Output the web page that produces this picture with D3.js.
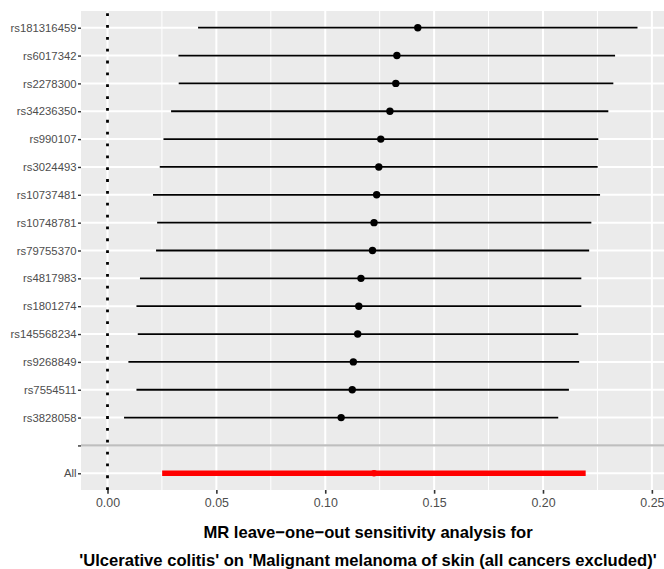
<!DOCTYPE html>
<html>
<head>
<meta charset="utf-8">
<script src="https://cdn.jsdelivr.net/npm/d3@7"></script>
<style>
  html, body { margin: 0; padding: 0; background: #ffffff; }
  svg { display: block; }
  text { font-family: "Liberation Sans", Arial, sans-serif; }
</style>
</head>
<body>
<svg id="chart" width="664" height="569"></svg>
<script>
// ---- data ----
const snps = ["rs181316459","rs6017342","rs2278300","rs34236350","rs990107","rs3024493",
  "rs10737481","rs10748781","rs79755370","rs4817983","rs1801274","rs145568234",
  "rs9268849","rs7554511","rs3828058"];
const estimates = [0.1425,0.1329,0.1324,0.1297,0.1255,0.1246,0.1236,0.1224,0.1217,
  0.1164,0.1154,0.1149,0.1129,0.1124,0.1073];
const lowerCI = [0.0416,0.0326,0.0327,0.0292,0.0257,0.0240,0.0209,0.0228,0.0223,
  0.0149,0.0133,0.0139,0.0096,0.0133,0.0076];
const upperCI = [0.2434,0.2331,0.2323,0.2300,0.2254,0.2251,0.2262,0.2222,0.2212,
  0.2176,0.2176,0.2162,0.2166,0.2119,0.2070];
const overallLabel = "All";
const overallEstimate = 0.1224;
const overallLower = 0.0251;
const overallUpper = 0.2196;
const xTicks = [0, 0.05, 0.10, 0.15, 0.20, 0.25];
const titleLines = ["MR leave\u2212one\u2212out sensitivity analysis for",
  "'Ulcerative colitis' on 'Malignant melanoma of skin (all cancers excluded)'"];

// ---- layout ----
const W = 664, H = 569;
const panel = { left: 81, right: 664, top: 11, bottom: 490 };
const svg = d3.select("#chart");

const levels = snps.concat(["", overallLabel]);
const rows = snps.map((s, i) => ({ snp: s, b: estimates[i], lo: lowerCI[i], up: upperCI[i] }));

const allLo = Math.min(0, d3.min(lowerCI), overallLower);
const allHi = Math.max(d3.max(upperCI), overallUpper);
const padX = 0.05 * (allHi - allLo);
const x = d3.scaleLinear().domain([allLo - padX, allHi + padX]).range([panel.left, panel.right]);
const y = d3.scalePoint().domain(levels).range([panel.top, panel.bottom]).padding(0.6);

// panel background
svg.append("rect")
  .attr("x", panel.left).attr("y", panel.top)
  .attr("width", panel.right - panel.left).attr("height", panel.bottom - panel.top)
  .attr("fill", "#EBEBEB");

// minor x gridlines
const minor = d3.range(0, xTicks.length - 1).map(i => (xTicks[i] + xTicks[i + 1]) / 2);
svg.append("g").selectAll("line").data(minor).join("line")
  .attr("x1", d => x(d)).attr("x2", d => x(d))
  .attr("y1", panel.top).attr("y2", panel.bottom)
  .attr("stroke", "#ffffff").attr("stroke-width", 1);

// major x gridlines
svg.append("g").selectAll("line").data(xTicks).join("line")
  .attr("x1", d => x(d)).attr("x2", d => x(d))
  .attr("y1", panel.top).attr("y2", panel.bottom)
  .attr("stroke", "#ffffff").attr("stroke-width", 2);

// major y gridlines
svg.append("g").selectAll("line").data(levels).join("line")
  .attr("x1", panel.left).attr("x2", panel.right)
  .attr("y1", d => y(d)).attr("y2", d => y(d))
  .attr("stroke", "#ffffff").attr("stroke-width", 2);

// dotted vertical line at 0 (drawn bottom to top)
svg.append("line")
  .attr("x1", x(0)).attr("x2", x(0))
  .attr("y1", panel.bottom).attr("y2", panel.top)
  .attr("stroke", "#000000").attr("stroke-width", 2.8)
  .attr("stroke-dasharray", "2.8 9.05");

// grey separator line
svg.append("line")
  .attr("x1", panel.left).attr("x2", panel.right)
  .attr("y1", y("")).attr("y2", y(""))
  .attr("stroke", "#BEBEBE").attr("stroke-width", 2.2);

// SNP intervals
svg.append("g").selectAll("line").data(rows).join("line")
  .attr("x1", d => x(d.lo)).attr("x2", d => x(d.up))
  .attr("y1", d => y(d.snp)).attr("y2", d => y(d.snp))
  .attr("stroke", "#000000").attr("stroke-width", 1.8);

svg.append("g").selectAll("circle").data(rows).join("circle")
  .attr("cx", d => x(d.b)).attr("cy", d => y(d.snp))
  .attr("r", 3.7).attr("fill", "#000000");

// overall estimate
svg.append("line")
  .attr("x1", x(overallLower)).attr("x2", x(overallUpper))
  .attr("y1", y(overallLabel)).attr("y2", y(overallLabel))
  .attr("stroke", "#FF0000").attr("stroke-width", 5.6);
svg.append("circle")
  .attr("cx", x(overallEstimate)).attr("cy", y(overallLabel))
  .attr("r", 3.2).attr("fill", "#FF0000");

// x axis
const xAxis = d3.axisBottom(x).tickValues(xTicks).tickFormat(d3.format(".2f"))
  .tickSize(3.7).tickPadding(4);
const gx = svg.append("g").attr("transform", `translate(0,${panel.bottom})`).call(xAxis);
gx.select(".domain").remove();
gx.selectAll(".tick line").attr("stroke", "#333333").attr("stroke-width", 1.6);
gx.selectAll(".tick text").attr("fill", "#4D4D4D").attr("font-size", "12.4px")
  .attr("font-family", "Liberation Sans, Arial, sans-serif");

// y axis
const yAxis = d3.axisLeft(y).tickSize(3).tickPadding(1.5);
const gy = svg.append("g").attr("transform", `translate(${panel.left},0)`).call(yAxis);
gy.select(".domain").remove();
gy.selectAll(".tick line").attr("stroke", "#333333").attr("stroke-width", 1.4);
gy.selectAll(".tick text").attr("fill", "#4D4D4D").attr("font-size", "11.3px")
  .attr("font-family", "Liberation Sans, Arial, sans-serif");

// title (x-axis title, two lines)
const tcx = 368;
svg.append("text").attr("x", tcx).attr("y", 538).attr("text-anchor", "middle")
  .attr("font-size", "16.6px").attr("font-weight", "bold").attr("fill", "#000000")
  .text(titleLines[0]);
svg.append("text").attr("x", tcx).attr("y", 566).attr("text-anchor", "middle")
  .attr("font-size", "16.6px").attr("font-weight", "bold").attr("fill", "#000000")
  .text(titleLines[1]);
</script>
</body>
</html>
